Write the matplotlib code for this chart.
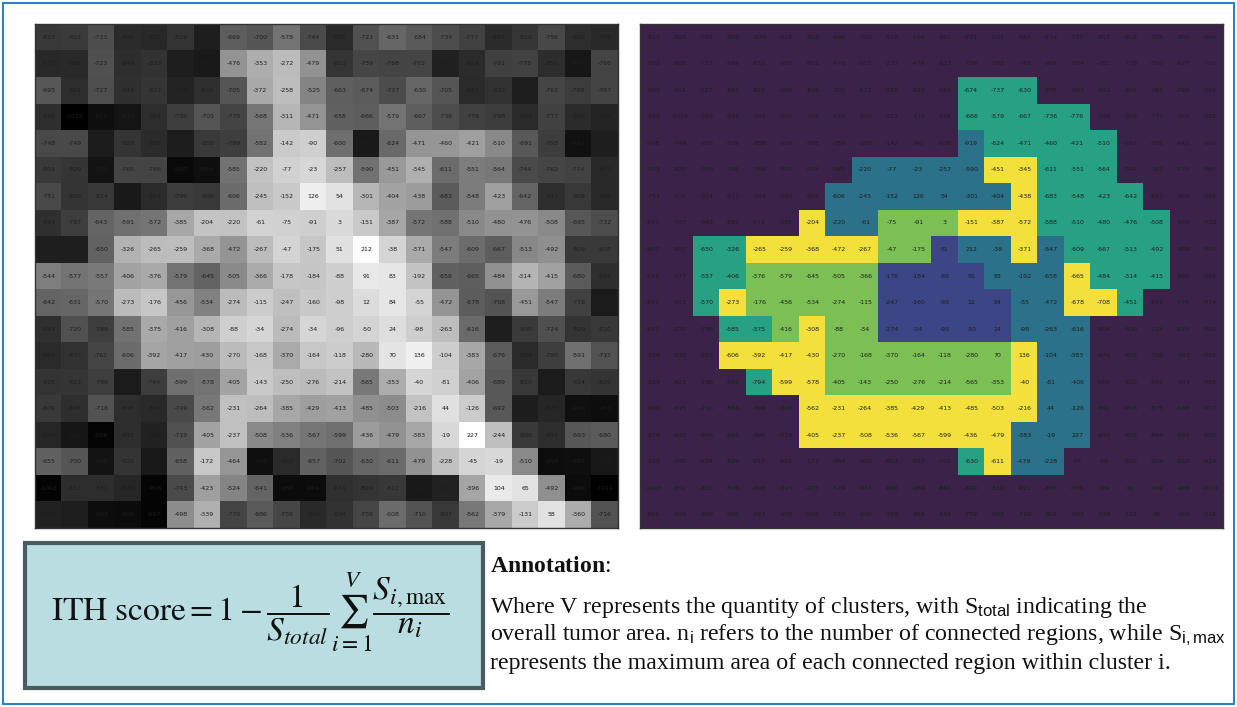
import numpy as np
import matplotlib
matplotlib.use("Agg")
import matplotlib.pyplot as plt
from matplotlib.colors import ListedColormap, LinearSegmentedColormap
from matplotlib.patches import Rectangle

plt.rcParams['mathtext.fontset'] = 'custom'
plt.rcParams['mathtext.rm'] = 'Liberation Serif'
plt.rcParams['mathtext.it'] = 'Liberation Serif:italic'
plt.rcParams['mathtext.bf'] = 'Liberation Serif:bold'
plt.rcParams['mathtext.sf'] = 'Liberation Sans'

# ---------------- data ----------------
hu_values = [
    [-813, -803, -733, -856, -870, -829, -903, -669, -700, -578, -744, -861, -721, -631, -684, -734, -777, -857, -818, -756, -850, -866],
    [-871, -865, -723, -849, -833, -905, -921, -476, -353, -272, -479, -823, -759, -768, -762, -901, -854, -781, -778, -850, -927, -766],
    [-695, -851, -727, -843, -822, -889, -839, -705, -372, -258, -525, -663, -674, -737, -630, -705, -863, -832, -905, -762, -799, -767],
    [-848, -1019, -953, -934, -851, -788, -705, -770, -568, -311, -471, -658, -666, -579, -667, -736, -776, -798, -859, -777, -858, -883],
    [-748, -749, -916, -829, -858, -909, -808, -789, -582, -142, -90, -600, -919, -624, -471, -460, -421, -510, -691, -795, -942, -904],
    [-803, -820, -938, -766, -766, -980, -954, -585, -220, -77, -23, -257, -590, -451, -345, -611, -551, -564, -744, -762, -774, -867],
    [-751, -826, -814, -917, -854, -799, -809, -606, -245, -152, 126, 54, -301, -404, -438, -683, -548, -423, -642, -847, -808, -865],
    [-843, -787, -643, -591, -572, -385, -204, -220, -61, -75, -91, 3, -151, -387, -572, -588, -510, -480, -476, -508, -695, -732],
    [-907, -907, -650, -326, -265, -259, -368, -472, -267, -47, -175, 51, 212, -38, -371, -547, -609, -667, -513, -492, -809, -808],
    [-544, -577, -557, -406, -376, -579, -645, -505, -366, -178, -184, -88, 91, 83, -192, -658, -665, -484, -314, -415, -680, -845],
    [-642, -631, -570, -273, -176, -456, -534, -274, -115, -247, -160, -98, 12, 84, -55, -472, -678, -708, -451, -547, -776, -914],
    [-843, -720, -788, -585, -375, -416, -308, -88, -34, -274, -34, -96, -50, 24, -98, -263, -616, -904, -800, -724, -829, -810],
    [-859, -832, -762, -606, -392, -417, -430, -270, -168, -370, -164, -118, -280, 70, 136, -104, -383, -676, -859, -790, -591, -715],
    [-828, -822, -786, -916, -794, -599, -578, -405, -143, -250, -276, -214, -565, -353, -40, -81, -406, -689, -810, -916, -814, -826],
    [-809, -845, -716, -848, -866, -749, -562, -231, -264, -385, -429, -413, -485, -503, -216, 44, -126, -692, -908, -875, -946, -957],
    [-876, -930, -996, -845, -896, -719, -405, -237, -508, -536, -567, -599, -436, -479, -383, -19, 227, -244, -808, -844, -693, -680],
    [-655, -700, -939, -829, -917, -658, -172, -464, -950, -863, -657, -702, -630, -611, -479, -228, -45, -19, -510, -959, -952, -924],
    [-1003, -852, -851, -876, -998, -743, -423, -524, -641, -966, -969, -841, -829, -812, -921, -895, -396, 104, 65, -492, -966, -1019],
    [-894, -904, -958, -966, -997, -498, -339, -770, -686, -759, -868, -834, -759, -608, -710, -807, -562, -379, -131, 58, -360, -716],
]

# cluster label per cell (0 = background)
cluster_rows = [
    "0000000000000000000000",
    "0000000000000000000000",
    "0000000000003330000000",
    "0000000000003333300000",
    "0000000000002333330000",
    "0000000022222553330000",
    "0000000222222253333000",
    "0000005224445553333300",
    "0033555554412252333300",
    "0033444441111222533300",
    "0035444441111122553000",
    "0003345441111122200000",
    "0005555444444452200000",
    "0000355444444452200000",
    "0000005555555552200000",
    "0000005555555522200000",
    "0000000000003522000000",
    "0000000000000000000000",
    "0000000000000000000000",
]
cluster_colors = ["#3a2249", "#3c4686", "#2b7189", "#27a183", "#7bbf55", "#f4e03a"]

# grey display curve of the left panel (value -> grey level)
grey_nodes_value = [-1019, -950, -900, -850, -800, -700, -578, -476, -353, -250, -100, 50, 227]
grey_nodes_level = [0, 16, 33, 46, 60, 87, 116, 148, 174, 191, 206, 225, 255]

formula = (r"$\mathrm{ITH\ score} = 1 - \dfrac{1}{S_{total}}"
           r"\sum_{i=1}^{V}\dfrac{S_{i,\max}}{n_i}$")
annotation_title = r"$\mathbf{Annotation}$:"
annotation_lines = [
    r"Where V represents the quantity of clusters, with S$_{\mathsf{total}}$ indicating the",
    r"overall tumor area. n$_{\mathsf{i}}$ refers to the number of connected regions, while S$_{\mathsf{i,max}}$",
    r"represents the maximum area of each connected region within cluster i.",
]

# ---------------- figure ----------------
W, H = 1237, 707
fig = plt.figure(figsize=(W / 100, H / 100), dpi=100)


def fx(px):
    return px / W


def fy(py):
    return 1 - py / H


vals = np.array(hu_values)
clusters = np.array([[int(c) for c in r] for r in cluster_rows])
nrows, ncols = vals.shape

vmin, vmax = grey_nodes_value[0], grey_nodes_value[-1]
grey_cmap = LinearSegmentedColormap.from_list(
    "ct_grey",
    [((v - vmin) / (vmax - vmin), (g / 255, g / 255, g / 255))
     for v, g in zip(grey_nodes_value, grey_nodes_level)])

ax_l = fig.add_axes([fx(35), fy(528), fx(583), 504 / H])
ax_r = fig.add_axes([fx(640), fy(528), fx(583), 504 / H])

ax_l.imshow(vals, cmap=grey_cmap, vmin=vmin, vmax=vmax,
            aspect="auto", interpolation="nearest")
ax_r.imshow(clusters, cmap=ListedColormap(cluster_colors), vmin=-0.5,
            vmax=len(cluster_colors) - 0.5, aspect="auto", interpolation="nearest")

for ax in (ax_l, ax_r):
    for i in range(nrows):
        for j in range(ncols):
            ax.text(j, i, str(vals[i, j]), ha="center", va="center",
                    fontsize=4.5, color="#1e1e1e")
    ax.set_xticks([])
    ax.set_yticks([])
    for s in ax.spines.values():
        s.set_color("#333333")
        s.set_linewidth(1.0)

# formula box
fig.patches.append(Rectangle((fx(25), fy(688)), fx(458), 145 / H,
                             transform=fig.transFigure, facecolor="#badde2",
                             edgecolor="#4b5b60", linewidth=3))
fig.text(fx(250), fy(612), formula, ha="center", va="center", fontsize=24,
         color="#111111", math_fontfamily="stix")

# annotation
fig.text(fx(490), fy(566), annotation_title, ha="left", va="center",
         fontsize=17, family="Liberation Serif", color="#111111",
         math_fontfamily="custom")
for k, line in enumerate(annotation_lines):
    fig.text(fx(490), fy(607 + 28 * k), line, ha="left", va="center",
             fontsize=17.2, family="Liberation Serif", color="#111111",
             math_fontfamily="custom")

# outer blue frame
fig.patches.append(Rectangle((fx(3), fy(704)), fx(1231), 701 / H,
                             transform=fig.transFigure, facecolor="none",
                             edgecolor="#2b82c4", linewidth=1.5))

fig.savefig("out.png", dpi=100)
